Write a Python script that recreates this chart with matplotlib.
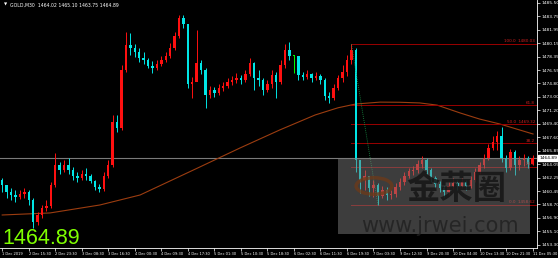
import numpy as np
import matplotlib.pyplot as plt
from matplotlib.patches import Rectangle, Circle

# GOLD M30 candles (one entry per bar)
close = [1461.28, 1460.35, 1459.95, 1459.68, 1460.08, 1460.35, 1459.29, 1456.36, 1457.29, 1458.22,
         1458.49, 1461.28, 1463.94, 1463.28, 1463.94, 1463.28, 1462.48, 1462.21, 1462.74, 1462.48,
         1461.81, 1461.01, 1460.75, 1462.48, 1463.94, 1469.66, 1468.86, 1476.58, 1479.90, 1479.50,
         1478.97, 1478.17, 1477.91, 1477.11, 1476.84, 1477.37, 1477.91, 1478.44, 1479.50, 1481.10,
         1483.49, 1482.69, 1474.71, 1474.98, 1477.51, 1476.58, 1473.25, 1473.92, 1473.52, 1474.18,
         1474.45, 1474.98, 1475.25, 1475.51, 1475.25, 1476.04, 1477.51, 1475.51, 1475.25, 1473.92,
         1474.71, 1475.91, 1474.98, 1477.24, 1479.24, 1478.44, 1478.44, 1475.91, 1475.64, 1476.04,
         1475.51, 1475.78, 1475.25, 1473.12, 1472.85, 1474.18, 1475.51, 1476.31, 1477.91, 1479.24,
         1464.61, 1461.95, 1462.48, 1460.88, 1461.28, 1459.82, 1460.62, 1459.95, 1460.08, 1461.01,
         1461.68, 1462.48, 1463.14, 1463.28, 1464.07, 1464.61, 1463.28, 1462.21, 1461.41, 1460.88,
         1460.35, 1461.15, 1461.55, 1461.15, 1461.68, 1461.15, 1461.95, 1463.01, 1463.94, 1464.87,
         1466.20, 1467.00, 1467.80, 1464.87, 1463.54, 1465.67, 1463.94, 1464.61, 1464.87, 1464.07,
         1464.89]
high = [1462.21, 1461.28, 1460.88, 1460.62, 1460.62, 1460.88, 1460.62, 1459.55, 1457.69, 1458.62,
        1459.29, 1461.68, 1465.54, 1464.34, 1464.61, 1464.87, 1463.67, 1463.01, 1463.28, 1463.54,
        1462.74, 1461.95, 1461.41, 1463.01, 1464.61, 1470.59, 1470.59, 1477.24, 1481.63, 1481.50,
        1480.03, 1479.50, 1478.97, 1478.17, 1477.77, 1477.91, 1478.44, 1478.97, 1480.17, 1481.63,
        1483.89, 1483.89, 1482.69, 1475.64, 1481.89, 1477.91, 1476.84, 1474.45, 1474.31, 1474.71,
        1474.98, 1475.51, 1475.78, 1476.18, 1475.91, 1476.58, 1478.17, 1477.64, 1476.58, 1475.51,
        1475.25, 1476.58, 1476.31, 1477.91, 1480.03, 1480.30, 1478.57, 1478.17, 1476.31, 1476.58,
        1476.18, 1476.31, 1476.04, 1475.51, 1473.65, 1474.71, 1475.91, 1477.24, 1478.57, 1480.03,
        1479.50, 1464.61, 1463.28, 1462.21, 1461.95, 1461.55, 1461.15, 1461.01, 1460.62, 1461.55,
        1462.21, 1463.01, 1463.54, 1463.81, 1464.61, 1465.14, 1464.87, 1463.54, 1462.48, 1461.81,
        1461.15, 1461.68, 1462.21, 1461.95, 1462.21, 1461.95, 1462.48, 1463.54, 1464.34, 1465.40,
        1466.73, 1467.80, 1468.46, 1468.99, 1465.27, 1466.07, 1465.94, 1465.14, 1465.40, 1465.14,
        1465.27]
low = [1460.35, 1459.55, 1459.29, 1459.02, 1459.42, 1459.55, 1458.62, 1455.56, 1455.96, 1456.89,
       1457.82, 1458.22, 1461.01, 1462.74, 1463.01, 1462.74, 1461.95, 1461.68, 1461.95, 1461.95,
       1461.55, 1460.62, 1460.35, 1460.48, 1462.21, 1463.67, 1468.33, 1468.60, 1476.31, 1478.57,
       1478.30, 1477.64, 1477.37, 1476.84, 1476.18, 1476.58, 1477.11, 1477.64, 1478.17, 1479.24,
       1480.83, 1482.16, 1474.18, 1472.85, 1475.25, 1476.04, 1471.52, 1472.85, 1472.98, 1473.25,
       1473.78, 1474.18, 1474.58, 1474.85, 1474.71, 1474.98, 1475.78, 1473.92, 1474.45, 1473.25,
       1473.65, 1474.18, 1472.85, 1474.71, 1476.84, 1477.91, 1476.18, 1475.25, 1475.25, 1475.38,
       1474.98, 1475.25, 1474.71, 1472.59, 1472.19, 1472.59, 1473.92, 1474.98, 1475.78, 1477.37,
       1463.01, 1460.22, 1460.62, 1459.82, 1459.68, 1458.62, 1459.55, 1459.29, 1459.42, 1459.68,
       1460.62, 1461.28, 1462.21, 1462.61, 1462.88, 1463.54, 1462.74, 1461.68, 1460.88, 1460.35,
       1459.68, 1459.95, 1460.75, 1460.62, 1460.88, 1460.62, 1460.88, 1461.68, 1462.74, 1463.54,
       1464.61, 1465.94, 1465.94, 1464.34, 1463.01, 1463.28, 1462.61, 1463.28, 1463.81, 1463.54,
       1463.94]
first_open = 1461.90

# moving average (bar position, value)
ma_bar = [0, 10.8, 22.1, 31.2, 44.7, 53.8, 62.8, 70.8, 76.0, 80.0, 85.5, 90.0, 94.5, 98.4,
          103.6, 108.0, 112.6, 120.1]
ma_val = [1457.29, 1457.56, 1458.62, 1459.95, 1463.67, 1466.20, 1468.60, 1470.59, 1471.55,
          1472.05, 1472.30, 1472.28, 1472.19, 1471.90, 1470.86, 1470.05, 1469.39, 1468.06]

# fibonacci retracement
fib_start, fib_end = 79, 85
fib_high, fib_low = 1480.03, 1458.62
fib_levels = [100.0, 61.8, 50.0, 38.2, 23.6, 0.0]
fib_show_price = [True, False, True, False, False, True]

price_ticks = [1485.50, 1483.75, 1481.95, 1480.15, 1478.35, 1476.55, 1474.80, 1473.00, 1471.20,
               1469.40, 1467.60, 1465.85, 1464.05, 1462.25, 1460.45, 1458.70, 1456.90, 1455.10,
               1453.30]
time_labels = ['1 Dec 2019', '2 Dec 15:30', '2 Dec 23:30', '3 Dec 08:30', '3 Dec 16:30',
               '4 Dec 00:30', '4 Dec 09:30', '4 Dec 17:30', '5 Dec 01:30', '5 Dec 10:30',
               '5 Dec 18:30', '6 Dec 02:30', '6 Dec 11:30', '6 Dec 19:30', '7 Dec 03:30',
               '9 Dec 12:30', '9 Dec 20:30', '10 Dec 04:30', '10 Dec 13:30', '10 Dec 21:30',
               '11 Dec 05:30']
last_price = 1464.89
header = 'GOLD,M30  1464.02 1465.10 1463.75 1464.89'

close = np.array(close)
high = np.array(high)
low = np.array(low)
opn = np.concatenate([[first_open], close[:-1]])
x = np.arange(len(close))

fig = plt.figure(figsize=(5.58, 2.58), dpi=100, facecolor='black')
ax = fig.add_axes([0, 10/258, 537/558, 248/258])
ax.set_facecolor('black')

colors = np.where(close > opn, '#ff1010', np.where(close < opn, '#00e5e5', '#00ff00'))
ax.vlines(x, low, high, colors=colors, lw=0.7, zorder=3)
body = np.maximum(np.abs(close - opn), 0.08)
ax.bar(x, body, bottom=np.minimum(close, opn), width=0.55, color=colors, zorder=3)

# moving average
ax.plot(ma_bar, ma_val, color='#9c3d10', lw=0.8, zorder=2)

# current price line
ax.axhline(last_price, color='#7a7a7a', lw=0.8, zorder=1)

# fibo
rng = fib_high - fib_low
for lvl, show in zip(fib_levels, fib_show_price):
    p = fib_low + lvl / 100 * rng
    ax.plot([fib_start, 121], [p, p], color='#9a0000', lw=0.7, zorder=2)
    txt = f'{lvl:.1f}  {p:.2f}' if show else f'{lvl:.1f}'
    ax.text(120.6, p + 0.1, txt, color='#d02020', fontsize=3, ha='right', va='bottom', zorder=4)
ax.plot([fib_start, fib_end], [fib_high, fib_low], color='#1a9a4a', lw=0.6, ls=(0, (1, 1.5)), zorder=4)

ax.set_xlim(-0.5, 121)
ax.set_ylim(1452.90, 1485.88)

ax.yaxis.tick_right()
ax.set_yticks(price_ticks)
ax.set_yticklabels([f'{t:.2f}' for t in price_ticks])
ax.set_xticks(np.arange(len(time_labels)) * 6)
ax.set_xticklabels(time_labels, ha='left')
ax.tick_params(axis='y', colors='white', labelsize=3.2, length=2, width=0.5, pad=1)
ax.tick_params(axis='x', colors='white', labelsize=2.6, length=2, width=0.5, pad=1)
for s in ['left', 'top']:
    ax.spines[s].set_visible(False)
for s in ['right', 'bottom']:
    ax.spines[s].set_color('white')
    ax.spines[s].set_linewidth(0.6)

ax.text(1.004, last_price, f'{last_price:.2f}', transform=ax.get_yaxis_transform(),
        color='black', fontsize=3.2, va='center', ha='left',
        bbox=dict(fc='white', ec='white', pad=0.6), zorder=6, clip_on=False)

# header and big price
fig.text(4/558, 1 - 5/258, '\u25bc', color='white', fontsize=3, va='center')
fig.text(10/558, 1 - 5/258, header, color='white', fontsize=3.3, va='center')
fig.text(2/558, 1 - 238/258, f'{last_price:.2f}', color='#7fff00', fontsize=15.5,
         family='Liberation Sans', va='center', ha='left')

# watermark
fig.patches.append(Rectangle((338/558, 24/258), 192/558, 76/258, transform=fig.transFigure,
                             facecolor='#7a7a7a', alpha=0.5, edgecolor='none', zorder=5))
fig.patches.append(Circle((374/558, 1 - 186/258), 0.032, transform=fig.transFigure,
                          fill=False, edgecolor='#6b3a1a', lw=2.5, alpha=0.8, zorder=6))
fig.text(456/558, 1 - 190/258, '金荣圈', family=['Noto Sans CJK SC', 'DejaVu Sans'],
         fontsize=24, fontweight='bold', color='#151515', alpha=0.85, ha='center', va='center', zorder=7)
fig.text(440/558, 1 - 226/258, 'www.jrwei.com', fontsize=15, color='#202020', alpha=0.8,
         ha='center', va='center', zorder=7)

fig.savefig('out.png', dpi=100, facecolor='black')
